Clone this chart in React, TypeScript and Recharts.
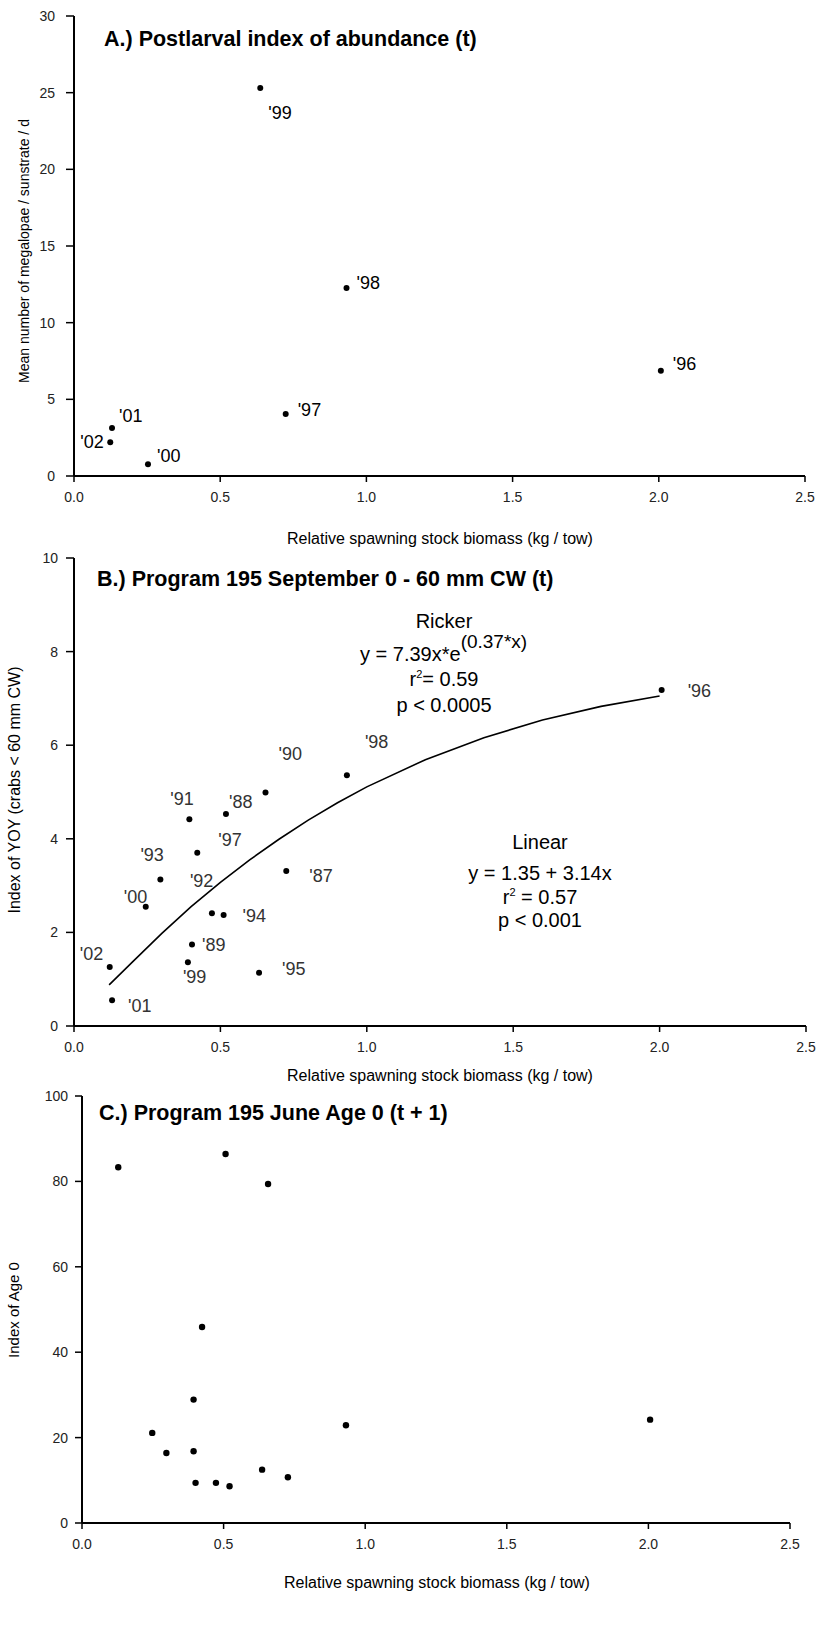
import React from "react";
import { ScatterChart, Scatter, XAxis, YAxis } from "recharts";

const FONT = '"Liberation Sans", Arial, Helvetica, sans-serif';

// x axis shared by all panels
const xTicks = [0, 0.5, 1, 1.5, 2, 2.5];

// A.) Postlarval index of abundance (t)
const yearsA = ["'99", "'98", "'97", "'96", "'01", "'02", "'00"];
const xA = [0.637, 0.932, 0.724, 2.007, 0.13, 0.124, 0.253];
const yA = [25.3, 12.26, 4.04, 6.87, 3.13, 2.2, 0.76];
const yTicksA = [0, 5, 10, 15, 20, 25, 30];

// B.) Program 195 September 0 - 60 mm CW (t)
const yearsB = ["'90", "'98", "'91", "'88", "'97", "'93", "'87", "'92", "'94", "'00", "'89", "'99", "'95", "'02", "'01", "'96"];
const xB = [0.654, 0.932, 0.394, 0.519, 0.421, 0.295, 0.725, 0.471, 0.511, 0.245, 0.403, 0.389, 0.632, 0.122, 0.13, 2.007];
const yB = [4.99, 5.36, 4.42, 4.53, 3.7, 3.13, 3.31, 2.41, 2.37, 2.55, 1.74, 1.36, 1.14, 1.26, 0.55, 7.18];
const yTicksB = [0, 2, 4, 6, 8, 10];
// ricker fit line
const rickerX = [0.12, 0.2, 0.3, 0.4, 0.5, 0.6, 0.7, 0.8, 0.9, 1.0, 1.2, 1.4, 1.6, 1.8, 2.0];
const rickerY = [0.88, 1.37, 1.98, 2.55, 3.07, 3.55, 3.99, 4.4, 4.77, 5.11, 5.69, 6.16, 6.54, 6.83, 7.05];

// C.) Program 195 June Age 0 (t + 1)
const xC = [0.128, 0.507, 0.657, 0.424, 0.394, 0.248, 0.298, 0.394, 0.401, 0.473, 0.521, 0.636, 0.727, 0.932, 2.006];
const yC = [83.3, 86.4, 79.4, 45.9, 28.9, 21.1, 16.4, 16.8, 9.4, 9.4, 8.6, 12.5, 10.7, 22.9, 24.2];
const yTicksC = [0, 20, 40, 60, 80, 100];

// label placement next to each dot (px)
const offA: Record<string, [number, number]> = {
  "'99": [8, 25], "'98": [10, -5], "'97": [12, -4], "'96": [12, -7],
  "'01": [7, -12], "'02": [-30, 0], "'00": [9, -8],
};
const offB: Record<string, [number, number]> = {
  "'90": [13, -38], "'98": [18, -33], "'91": [-19, -20], "'88": [3, -12],
  "'97": [21, -13], "'93": [-20, -25], "'87": [23, 5], "'92": [-22, -32],
  "'94": [19, 1], "'00": [-22, -10], "'89": [10, 0], "'99": [-5, 15],
  "'95": [23, -4], "'02": [-30, -13], "'01": [16, 6], "'96": [26, 1],
};

const dataA = yearsA.map((label, i) => ({ x: xA[i], y: yA[i], label }));
const dataB = yearsB.map((label, i) => ({ x: xB[i], y: yB[i], label }));
const rickerData = rickerX.map((x, i) => ({ x, y: rickerY[i] }));
const dataC = xC.map((x, i) => ({ x, y: yC[i], label: "" }));

const dot = (offsets: Record<string, [number, number]>, color: string, r: number) => (props: any) => {
  const { cx, cy, payload } = props;
  const off = offsets[payload.label];
  return (
    <g>
      <circle cx={cx} cy={cy} r={r} fill="#000" />
      {off && (
        <text x={cx + off[0]} y={cy + off[1]} dominantBaseline="central" fontSize={18} fill={color} fontFamily={FONT}>
          {payload.label}
        </text>
      )}
    </g>
  );
};

const tickStyle = { fill: "#222", fontSize: 14, fontFamily: FONT };

function Panel({ top, height, margin, yWidth, yDomain, yTicks, yTickSize, yTickMargin, children }: any) {
  return (
    <div style={{ position: "absolute", left: 0, top }}>
      <ScatterChart width={816} height={height} margin={margin}>
        <XAxis
          type="number"
          dataKey="x"
          domain={[0, 2.5]}
          ticks={xTicks}
          tickFormatter={(v: number) => v.toFixed(1)}
          height={30}
          axisLine={{ stroke: "#000", strokeWidth: 2 }}
          tickLine={{ stroke: "#000", strokeWidth: 1.5 }}
          tickSize={6}
          tickMargin={10}
          tick={tickStyle}
          interval={0}
        />
        <YAxis
          type="number"
          dataKey="y"
          domain={yDomain}
          ticks={yTicks}
          width={yWidth}
          axisLine={{ stroke: "#000", strokeWidth: 2 }}
          tickLine={{ stroke: "#000", strokeWidth: 1.5 }}
          tickSize={yTickSize}
          tickMargin={yTickMargin}
          tick={tickStyle}
          interval={0}
        />
        {children}
      </ScatterChart>
    </div>
  );
}

export default function App() {
  return (
    <div style={{ position: "absolute", left: 0, top: 0, width: 816, height: 1632, background: "#fff" }}>
      <Panel top={0} height={560} margin={{ top: 16, right: 11, bottom: 54, left: 0 }} yWidth={74}
        yDomain={[0, 30]} yTicks={yTicksA} yTickSize={8} yTickMargin={11}>
        <Scatter data={dataA} shape={dot(offA, "#000", 3)} isAnimationActive={false} />
      </Panel>

      <Panel top={548} height={520} margin={{ top: 10, right: 10, bottom: 12, left: 0 }} yWidth={74}
        yDomain={[0, 10]} yTicks={yTicksB} yTickSize={8} yTickMargin={8}>
        <Scatter data={rickerData} line={{ stroke: "#000", strokeWidth: 1.6 }} lineType="joint"
          shape={() => <g />} isAnimationActive={false} />
        <Scatter data={dataB} shape={dot(offB, "#333", 3)} isAnimationActive={false} />
      </Panel>

      <Panel top={1080} height={500} margin={{ top: 16, right: 26, bottom: 27, left: 0 }} yWidth={82}
        yDomain={[0, 100]} yTicks={yTicksC} yTickSize={7} yTickMargin={7}>
        <Scatter data={dataC} shape={dot({}, "#000", 3.2)} isAnimationActive={false} />
      </Panel>

      <svg width={816} height={1632} style={{ position: "absolute", left: 0, top: 0, pointerEvents: "none" }} fontFamily={FONT}>
        {/* panel titles */}
        <text x={104} y={46} fontSize={21.5} fontWeight="bold">A.) Postlarval index of abundance (t)</text>
        <text x={97} y={586} fontSize={21.5} fontWeight="bold">B.) Program 195 September 0 - 60 mm CW (t)</text>
        <text x={99} y={1120} fontSize={21.5} fontWeight="bold">C.) Program 195 June Age 0 (t + 1)</text>

        {/* x axis titles */}
        <text x={440} y={544} fontSize={16} textAnchor="middle">Relative spawning stock biomass (kg / tow)</text>
        <text x={440} y={1081} fontSize={16} textAnchor="middle">Relative spawning stock biomass (kg / tow)</text>
        <text x={437} y={1588} fontSize={16} textAnchor="middle">Relative spawning stock biomass (kg / tow)</text>

        {/* y axis titles */}
        <text transform="translate(29,251) rotate(-90)" fontSize={14} textAnchor="middle">Mean number of megalopae / sunstrate / d</text>
        <text transform="translate(20,790) rotate(-90)" fontSize={16} textAnchor="middle">Index of YOY (crabs &lt; 60 mm CW)</text>
        <text transform="translate(19,1310) rotate(-90)" fontSize={15} textAnchor="middle">Index of Age 0</text>

        {/* Ricker fit */}
        <g fontSize={20} fill="#000">
          <text x={444} y={628} textAnchor="middle">Ricker</text>
          <text x={360} y={661}>y = 7.39x*e<tspan dy={-13} fontSize={19}>(0.37*x)</tspan></text>
          <text x={444} y={686} textAnchor="middle">r<tspan dy={-8} fontSize={11}>2</tspan><tspan dy={8}>= 0.59</tspan></text>
          <text x={444} y={712} textAnchor="middle">p &lt; 0.0005</text>
        </g>

        {/* Linear fit */}
        <g fontSize={20} fill="#000">
          <text x={540} y={849} textAnchor="middle">Linear</text>
          <text x={540} y={880} textAnchor="middle">y = 1.35 + 3.14x</text>
          <text x={540} y={904} textAnchor="middle">r<tspan dy={-8} fontSize={11}>2</tspan><tspan dy={8}> = 0.57</tspan></text>
          <text x={540} y={927} textAnchor="middle">p &lt; 0.001</text>
        </g>
      </svg>
    </div>
  );
}
